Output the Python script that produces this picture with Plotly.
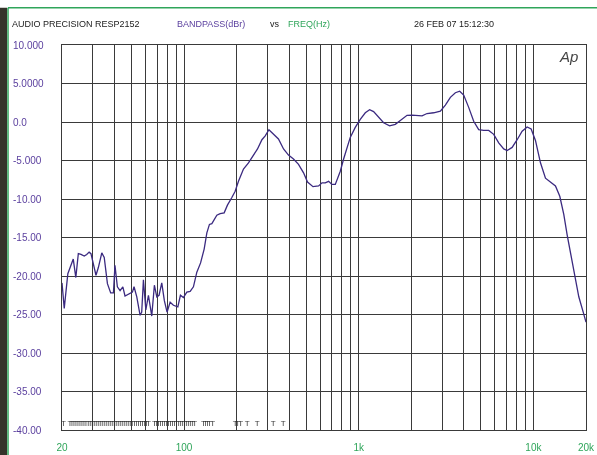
import plotly.graph_objects as go

# ---- data ----
freq_hz = [20.0, 20.6, 21.6, 22.2, 23.2, 24.0, 24.8, 25.7, 26.8, 27.7, 28.6, 29.3, 30.2, 31.3,
           32.3, 33.8, 34.9, 36.4, 38.0, 39.4, 40.2, 41.5, 43.0, 44.6, 45.9, 48.0, 50.6, 51.7,
           53.6, 56.0, 57.2, 58.5, 60.4, 62.5, 65.3, 67.6, 69.8, 71.9, 74.5, 77.1, 79.9, 83.2,
           86.9, 92.1, 95.3, 99.1, 103.7, 108.3, 113.1, 118.3, 124.3, 130.3, 135.0, 139.7,
           144.2, 154.0, 160.9, 169.6, 177.1, 187.7, 196.1, 204.8, 218.8, 233.7, 244.4, 263.2,
           279.0, 291.4, 306.0, 325, 347, 371, 396, 423, 452, 483, 509, 547, 589, 616, 643,
           672, 702, 734, 784, 819, 860, 894, 955, 1020, 1090, 1154, 1216, 1299, 1388, 1502,
           1619, 1730, 1890, 2018, 2156, 2303, 2460, 2685, 2932, 3132, 3346, 3574, 3784, 3988,
           4260, 4550, 4861, 5193, 5547, 5925, 6329, 6761, 7071, 7553, 8068, 8618, 9205, 9705,
           10272, 10974, 11722, 12520, 13374, 14157, 14922, 15608, 16303, 17186, 18190, 19277,
           20000]
level_dbr = [-20.9, -24.2, -19.7, -18.9, -17.8, -20.2, -17.1, -17.2, -17.4, -17.2, -16.9, -17.1,
             -18.6, -19.9, -18.9, -17.0, -17.6, -21.0, -22.2, -22.2, -18.6, -21.4, -21.9, -21.4,
             -22.6, -22.4, -22.1, -21.4, -22.7, -25.1, -24.7, -20.5, -24.4, -22.5, -25.2, -21.2,
             -22.7, -22.5, -20.9, -23.2, -24.7, -23.4, -23.8, -24.0, -22.5, -22.8, -22.1, -22.0,
             -21.4, -19.5, -18.3, -16.5, -14.4, -13.3, -13.2, -12.1, -11.9, -11.8, -10.8, -9.8,
             -9.0, -7.7, -6.1, -5.3, -4.6, -3.5, -2.3, -1.8, -1.0, -1.6, -2.2, -3.5, -4.3, -4.8,
             -5.5, -6.6, -7.8, -8.4, -8.3, -7.9, -7.9, -7.7, -8.1, -8.1, -6.4, -4.8, -3.2, -2.0,
             -0.7, 0.35, 1.2, 1.6, 1.35, 0.57, -0.1, -0.5, -0.3, 0.2, 0.87, 0.9, 0.87, 0.8, 1.1,
             1.2, 1.4, 2.2, 3.2, 3.8, 4.0, 3.5, 1.9, 0.1, -1.0, -1.1, -1.1, -1.6, -2.7, -3.5,
             -3.7, -3.3, -2.3, -1.2, -0.65, -0.9, -2.4, -5.3, -7.3, -7.8, -8.3, -9.65, -12.0,
             -14.7, -17.0, -19.9, -22.7, -24.7, -26.0]

# sweep-point markers ("T") along the bottom of the graph
marker_freq_hz = [20.35, 22.22, 22.81, 23.43, 24.06, 24.70, 25.37, 26.05, 26.75, 27.47, 28.21,
                  28.97, 29.74, 30.54, 31.36, 32.20, 33.07, 33.96, 34.87, 35.81, 36.77, 37.76,
                  38.77, 39.81, 40.88, 41.98, 43.11, 44.27, 45.46, 46.68, 47.93, 49.22, 50.54,
                  51.90, 53.30, 54.73, 56.20, 57.71, 59.26, 60.85, 62.49, 67.66, 69.48, 71.35,
                  73.26, 75.23, 77.25, 79.33, 81.46, 83.65, 85.89, 88.20, 90.57, 93.01, 95.50,
                  98.07, 100.7, 103.4, 106.2, 109.1, 112.0, 115.0, 128.9, 132.4, 136.0, 139.6,
                  145.6, 196.0, 203.0, 210.8, 230.0, 262.0, 324.0, 369.0]
marker_level = -39.2

grid_freqs = [20, 30, 40, 50, 60, 70, 80, 90, 100, 200, 300, 400, 500, 600, 700, 800, 900,
              1000, 2000, 3000, 4000, 5000, 6000, 7000, 8000, 9000, 10000, 20000]
x_tick_labels = {20: "20", 100: "100", 1000: "1k", 10000: "10k", 20000: "20k"}
y_tick_values = [10, 5, 0, -5, -10, -15, -20, -25, -30, -35, -40]
y_tick_labels = ["10.000", "5.0000", "0.0", "-5.000", "-10.00", "-15.00", "-20.00",
                 "-25.00", "-30.00", "-35.00", "-40.00"]

# ---- layout geometry (pixels) ----
W, H = 597, 455
L, R, T, B = 62, 586, 44.7, 430
PW, PH = R - L, B - T


def px(xp):
    return (xp - L) / PW


def py(yp):
    return (B - yp) / PH


FONT = "Liberation Sans, Arial, sans-serif"
PURPLE = "#5a3f9e"
GREEN = "#2fa55a"
LINE = "#3b2a80"
GRID = "#3a3a3a"

fig = go.Figure()
fig.add_trace(go.Scatter(x=freq_hz, y=level_dbr, mode="lines",
                         line=dict(color=LINE, width=1.3), hoverinfo="skip"))
fig.add_trace(go.Scatter(x=marker_freq_hz, y=[marker_level] * len(marker_freq_hz),
                         mode="text", text=["T"] * len(marker_freq_hz),
                         textfont=dict(family=FONT, size=8, color="rgba(40,40,40,0.92)"),
                         textposition="middle center", hoverinfo="skip"))

fig.update_xaxes(type="log", range=[1.30103, 4.30103], tickmode="array",
                 tickvals=grid_freqs,
                 ticktext=[x_tick_labels.get(f, "") for f in grid_freqs],
                 tickfont=dict(family=FONT, size=10, color=GREEN),
                 showgrid=True, gridcolor=GRID, gridwidth=1, automargin=False,
                 showline=True, linecolor=GRID, linewidth=1, mirror=True,
                 ticks="", ticklabelstandoff=8, zeroline=False)
fig.update_yaxes(range=[-40, 10], tickmode="array", tickvals=y_tick_values,
                 showticklabels=False, showgrid=True, gridcolor=GRID, gridwidth=1,
                 showline=True, linecolor=GRID, linewidth=1, mirror=True,
                 ticks="", zeroline=False, automargin=False)

annotations = []
for v, t in zip(y_tick_values, y_tick_labels):
    annotations.append(dict(xref="paper", yref="y", x=px(11), y=v, text=t,
                            showarrow=False, xanchor="left", yanchor="middle",
                            font=dict(family=FONT, size=10, color=PURPLE)))

header = [("AUDIO PRECISION RESP2152", 10, "#222222"),
          ("BANDPASS(dBr)", 175, PURPLE),
          ("vs", 268, "#222222"),
          ("FREQ(Hz)", 286, GREEN),
          ("26 FEB 07 15:12:30", 412, "#222222")]
for txt, xp, col in header:
    annotations.append(dict(xref="paper", yref="paper", x=px(xp), y=py(24), text=txt,
                            showarrow=False, xanchor="left", yanchor="middle",
                            font=dict(family=FONT, size=9, color=col)))

annotations.append(dict(xref="paper", yref="paper", x=px(568), y=py(56),
                        text="<i>Ap</i>", showarrow=False, xanchor="center",
                        yanchor="middle",
                        font=dict(family=FONT, size=15, color="#444444")))

shapes = [
    dict(type="rect", xref="paper", yref="paper", x0=px(0), x1=px(7), y0=py(455),
         y1=py(7.5), fillcolor="#34332a", line=dict(width=0), layer="above"),
    dict(type="line", xref="paper", yref="paper", x0=px(8), x1=px(8), y0=py(455),
         y1=py(7.5), line=dict(color=GREEN, width=1.5)),
    dict(type="line", xref="paper", yref="paper", x0=px(8), x1=px(597), y0=py(7.5),
         y1=py(7.5), line=dict(color=GREEN, width=1.5)),
]

fig.update_layout(width=W, height=H, margin=dict(l=L, r=W - R, t=T, b=H - B,
                                                 autoexpand=False),
                  paper_bgcolor="white", plot_bgcolor="white", showlegend=False,
                  annotations=annotations, shapes=shapes)

fig.write_html("out.html", config={"displayModeBar": False},
               post_script="document.body.style.margin='0';"
                           "document.body.style.padding='0';"
                           "document.body.style.overflow='hidden';"
                           "document.querySelectorAll('.main-svg').forEach("
                           "function(s){s.style.willChange='transform';});")
